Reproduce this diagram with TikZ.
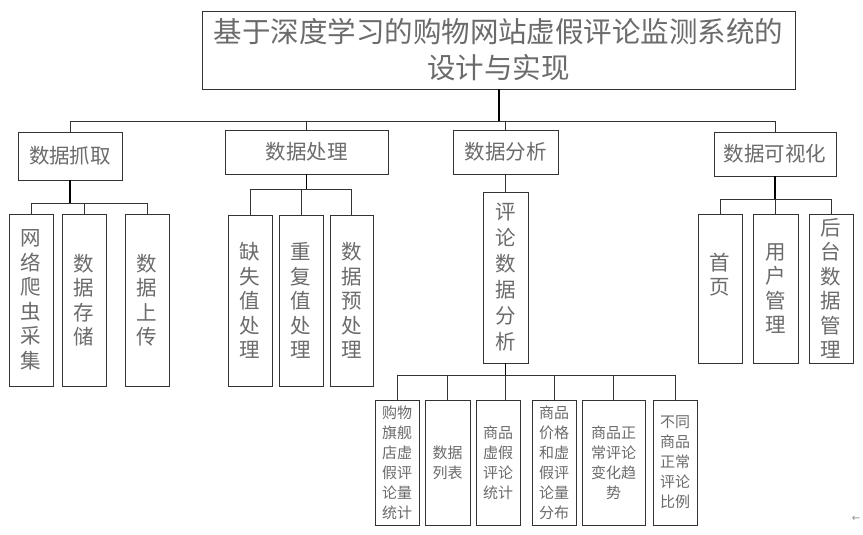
\documentclass[tikz,border=0pt]{standalone}
\usepackage{fontspec}
\newfontfamily\cjk{Noto Sans CJK SC}
\newfontfamily\dejavu{DejaVu Sans}
\begin{document}
\begin{tikzpicture}[x=1pt,y=-1pt,
  box/.style={draw=black!80, line width=0.9pt, fill=white, inner sep=0pt, text=black!58, align=center},
  ttl/.style={box, font=\cjk\fontsize{28.5}{36}\selectfont},
  lvtwo/.style={box, font=\cjk\fontsize{20.5}{24}\selectfont},
  lvthree/.style={box, font=\cjk\fontsize{20.5}{24.5}\selectfont},
  txtthree/.style={inner sep=0pt, align=center, text=black!58, font=\cjk\fontsize{20.5}{24.5}\selectfont},
  lvfour/.style={box, font=\cjk\fontsize{15}{20}\selectfont},
  conn/.style={draw=black!80, line width=0.9pt},
  stem/.style={draw=black, line width=1.5pt}]
\useasboundingbox (0,0) rectangle (863,535);

% title
\node[ttl, minimum width=593pt, minimum height=78pt] (title) at (498.5,50) {基于深度学习的购物网站虚假评论监测系统的\\设计与实现};

% level 2
\node[lvtwo, minimum width=104pt, minimum height=48pt] (grab) at (70,156) {数据抓取};
\node[lvtwo, minimum width=163pt, minimum height=44pt] (proc) at (306.5,152) {数据处理};
\node[lvtwo, minimum width=105pt, minimum height=44pt] (ana) at (505.5,152) {数据分析};
\node[lvtwo, minimum width=122pt, minimum height=44pt] (vis) at (775,154) {数据可视化};

% level 3: grab
\node[lvthree, minimum width=44pt, minimum height=172pt] (g1) at (31,300) {网\\络\\爬\\虫\\采\\集};
\node[lvthree, minimum width=44pt, minimum height=172pt] (g2) at (84,300) {数\\据\\存\\储};
\node[lvthree, minimum width=44pt, minimum height=172pt] (g3) at (147,300) {数\\据\\上\\传};

% level 3: proc
\node[lvthree, minimum width=44pt, minimum height=171pt] (p1) at (250,300.5) {缺\\失\\值\\处\\理};
\node[lvthree, minimum width=44pt, minimum height=171pt] (p2) at (301,300.5) {重\\复\\值\\处\\理};
\node[lvthree, minimum width=43pt, minimum height=171pt] (p3) at (351.5,300.5) {数\\据\\预\\处\\理};

% level 3: ana
\node[box, font=\cjk\fontsize{20.5}{26}\selectfont, minimum width=45pt, minimum height=171pt] (a1) at (505.5,277.5) {评\\论\\数\\据\\分\\析};

% level 3: vis
\node[box, minimum width=44pt, minimum height=149pt] (v1) at (720,288.5) {};
\node[txtthree] (v1t) at (720,274.5) {首\\页};
\node[lvthree, minimum width=45pt, minimum height=149pt] (v2) at (775.5,288.5) {用\\户\\管\\理};
\node[lvthree, minimum width=44pt, minimum height=149pt] (v3) at (831,288.5) {后\\台\\数\\据\\管\\理};

% level 4
\node[lvfour, minimum width=44pt, minimum height=125pt] (b1) at (397,462.5) {购物\\旗舰\\店虚\\假评\\论量\\统计};
\node[lvfour, minimum width=45pt, minimum height=125pt] (b2) at (447.5,462.5) {数据\\列表};
\node[lvfour, minimum width=44pt, minimum height=125pt] (b3) at (498,462.5) {商品\\虚假\\评论\\统计};
\node[lvfour, minimum width=44pt, minimum height=125pt] (b4) at (554,462.5) {商品\\价格\\和虚\\假评\\论量\\分布};
\node[lvfour, minimum width=63pt, minimum height=125pt] (b5) at (613.5,462.5) {商品正\\常评论\\变化趋\\势};
\node[lvfour, minimum width=44pt, minimum height=125pt] (b6) at (675,462.5) {不同\\商品\\正常\\评论\\比例};

% stray mark
\node[inner sep=0pt, text=black!45, font=\dejavu\fontsize{10}{10}\selectfont] (mark) at (856,519) {←};

% connectors: title
\coordinate (busA) at (499,121.5);
\draw[stem] (title.south -| busA) -- (busA);
\draw[conn] (grab.north) -- (grab.north |- busA) -- (vis.north |- busA) -- (vis.north);
\draw[conn] (proc.north) -- (proc.north |- busA);
\draw[conn] (ana.north) -- (ana.north |- busA);

% grab children
\coordinate (busG) at (70,203);
\draw[stem] (grab.south) -- (busG);
\draw[conn] (g1.north) -- (g1.north |- busG) -- (g3.north |- busG) -- (g3.north);
\draw[conn] (g2.north) -- (g2.north |- busG);

% proc children
\coordinate (busP) at (306.5,189);
\draw[stem] (proc.south) -- (busP);
\draw[conn] (p1.north) -- (p1.north |- busP) -- (p3.north |- busP) -- (p3.north);
\draw[conn] (p2.north) -- (p2.north |- busP);

% ana child
\draw[conn] (ana.south) -- (a1.north);

% a1 children
\coordinate (busB) at (505.5,375.5);
\draw[stem] (a1.south) -- (busB);
\draw[conn] (busB) -- (a1.south |- b3.north);
\draw[conn] (b1.north) -- (b1.north |- busB) -- (b6.north |- busB) -- (b6.north);
\draw[conn] (b2.north) -- (b2.north |- busB);
\draw[conn] (b4.north) -- (b4.north |- busB);
\draw[conn] (b5.north) -- (b5.north |- busB);

% vis children
\coordinate (busV) at (775,199);
\draw[stem] (vis.south) -- (busV);
\draw[conn] (v1.north) -- (v1.north |- busV) -- (v3.north |- busV) -- (v3.north);
\draw[conn] (v2.north) -- (v2.north |- busV);
\end{tikzpicture}
\end{document}
